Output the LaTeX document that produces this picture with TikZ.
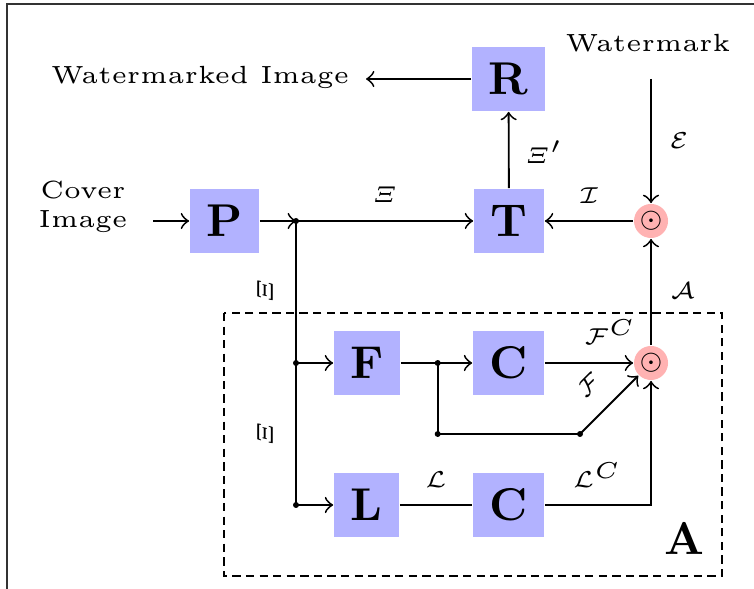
\documentclass[tikz,border=0pt]{standalone}
\usepackage{amsmath}
\begin{document}
\begin{tikzpicture}[x=0.2174pt,y=-0.2174pt,>=to,
  blk/.style={fill=blue!30, minimum height=13.9pt, inner sep=0pt, font=\normalsize\bfseries},
  op/.style={circle, fill=red!30, minimum size=7.4pt, inner sep=0pt, font=\tiny},
  lbl/.style={font=\tiny, inner sep=0pt},
  txt/.style={font=\fontsize{5.4}{6.2}\selectfont, align=center, inner sep=0pt},
  frame/.style={line width=0.45pt, black!80},
  grp/.style={dash pattern=on 1.8pt off 1.15pt}]
\useasboundingbox (0,0) rectangle (754,589);
\draw[frame] (7,589) -- (7,4) -- (754,4);
% blocks
\node[blk, minimum width=15pt]   (P)  at (224.5,221) {P};
\node[blk, minimum width=15.2pt] (T)  at (509,221)   {T};
\node[blk, minimum width=15.9pt] (R)  at (508.5,79)  {R};
\node[blk, minimum width=14.35pt](F)  at (367,363)   {F};
\node[blk, minimum width=15.4pt] (C1) at (508.5,363) {C};
\node[blk, minimum width=14.1pt] (L)  at (366.5,505) {L};
\node[blk, minimum width=15.4pt] (C2) at (508.5,505) {C};
\node[op] (O1) at (651,221) {$\odot$};
\node[op] (O2) at (651,363) {$\odot$};
% texts
\node[txt] (wm) at (648,43) {Watermark};
\node[txt] (wi) at (200,77) {Watermarked Image};
\node[txt] (ci) at (83,207) {Cover\\Image};
% group
\draw[grp] (224,313) rectangle (722,576);
\node[font=\normalsize\bfseries, inner sep=0pt] (Alab) at (684,538) {A};
% coordinates
\coordinate (wmS) at (651,79);
\coordinate (wiE) at (366,79);
\coordinate (ciE) at (153,221);
\coordinate (j1) at (296,221);
\coordinate (j2) at (296,363);
\coordinate (j3) at (296,505);
\coordinate (k1) at (437.7,363);
\coordinate (k2) at (437.7,434);
\coordinate (k3) at (580,434);
% connectors
\draw[->] (ciE) -- (P);
\draw[->] (P) -- (j1);
\draw[->] (j1) -- (T);
\draw (j1) -- (j3);
\draw[->] (j2) -- (F);
\draw[->] (j3) -- (L);
\draw (F) -- (k1);
\draw[->] (k1) -- (C1);
\draw (k1) -- (k2) -- (k3);
\draw[->] (k3) -- (O2);
\draw[->] (C1) -- (O2);
\draw (L) -- (C2);
\draw[->] (C2) -| (O2);
\draw[->] (O2) -- (O1);
\draw[->] (wmS) -- (O1);
\draw[->] (O1) -- (T);
\draw[->] (T) -- (R);
\draw[->] (R) -- (wiE);
\foreach \p in {j1,j2,j3,k1,k2,k3} \fill (\p) circle (0.65pt);
% labels
\node[lbl] (l1) at (385,195) {$\varXi$};
\node[lbl] (l2) at (544,152) {$\varXi'$};
\node[lbl] (l3) at (589,196) {$\mathcal{I}$};
\node[lbl] (l4) at (679,141) {$\mathcal{E}$};
\node[lbl] (l5) at (683,291) {$\mathcal{A}$};
\node[lbl] (l6) at (610,332) {$\mathcal{F}^C$};
\node[lbl, rotate=45] (l7) at (589,385) {$\mathcal{F}$};
\node[lbl] (l8) at (436,480) {$\mathcal{L}$};
\node[lbl] (l9) at (597,475) {$\mathcal{L}^C$};
\node[lbl, rotate=90] (l10) at (265,291) {$\varXi$};
\node[lbl, rotate=90] (l11) at (265,434) {$\varXi$};
\end{tikzpicture}
\end{document}
